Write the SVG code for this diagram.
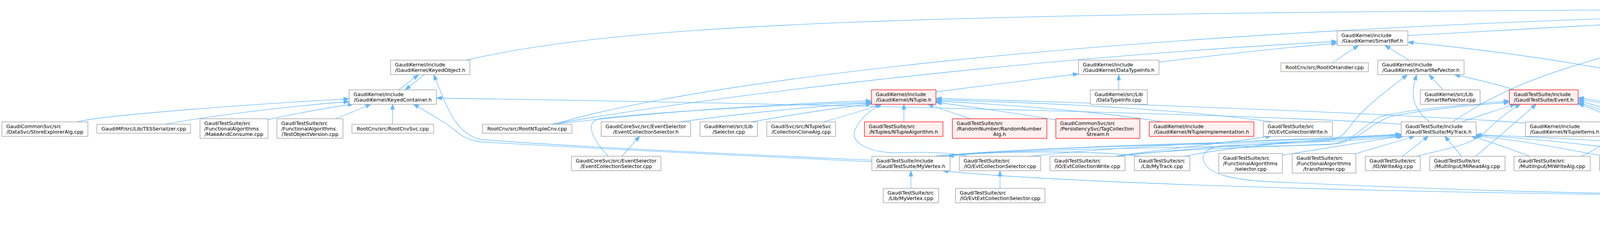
<svg xmlns="http://www.w3.org/2000/svg" width="5684" height="645" viewBox="0 0 5684 645">
<style>
.n rect{fill:#ffffff;stroke:#999999;stroke-width:1.3}
.root rect{fill:#999999;stroke:#666666;stroke-width:1.3}
.trunc rect{fill:#fff0f0;stroke:#ff0000;stroke-width:1.3}
text{font-family:"DejaVu Sans","Liberation Sans",sans-serif;font-size:12.8px;fill:#000000}
.m{text-anchor:middle}
#edges path{fill:none;stroke:#63b8ff;stroke-width:1.3;marker-end:url(#ah)}
</style>
<defs>
<marker id="ah" markerUnits="userSpaceOnUse" markerWidth="16" markerHeight="12" refX="14" refY="5" orient="auto" overflow="visible">
<path d="M0,0 L14,5 L0,10 z" fill="#63b8ff" stroke="#63b8ff" stroke-width="1"/>
</marker>
</defs>
<rect width="5684" height="645" fill="#ffffff"/>
<g id="edges">
<path d="M1193,154 C1600,60 2300,30 4766,23"/>
<path d="M3604,91 C3900,75 4400,45 4766,33"/>
<path d="M1420,318 C1700,230 2700,70 4766,30"/>
<path d="M3718,312 C3800,260 3900,190 4240,113 C4450,70 4650,42 4766,37"/>
<path d="M4765,400 C4800,360 4850,300 4855,260 L4855,167 C4858,120 4866,80 4874,41"/>
<path d="M4272,482 C4450,478 4700,481 4810,472 C4880,462 4907,420 4907,383 L4906,170 C4905,120 4896,80 4888,41"/>
<path d="M4279,485 C4500,456 4750,448 4858,452 C4886,453 4883,438 4866,420 C4830,385 4790,350 4700,318 C4450,230 4000,145 3604,108"/>
<path d="M4988,79 L4916,41"/>
<path d="M5140,79 L4962,41"/>
<path d="M5343,80 C5250,63 5100,44 4995,36"/>
<path d="M5512,80 C5350,58 5150,40 4995,31"/>
<path d="M1020,230 L1072,191"/>
<path d="M1087,191 L1037,230"/>
<path d="M197,312 C240,300 500,275 894,253"/>
<path d="M422,318 C520,300 700,275 894,260"/>
<path d="M686,306 C760,290 840,276 905,266"/>
<path d="M858,304 C890,292 920,280 950,266"/>
<path d="M1005,318 L1005,266"/>
<path d="M2232,414 C1900,398 1500,380 1230,363 C1180,357 1165,330 1140,315 C1110,297 1085,282 1058,266"/>
<path d="M2232,410 C1900,395 1500,378 1230,357 C1160,340 1140,260 1110,191"/>
<path d="M3587,318 C3300,296 2200,268 1117,251"/>
<path d="M1412,318 C1800,250 2600,150 3423,106"/>
<path d="M1415,318 C1700,285 2000,265 2231,258"/>
<path d="M1557,400 C1520,360 1490,310 1540,303 C1700,285 2000,268 2231,262"/>
<path d="M1741,312 C1900,290 2100,270 2231,264"/>
<path d="M1923,312 C2050,290 2150,275 2231,266"/>
<path d="M2108,312 C2170,295 2220,280 2255,266"/>
<path d="M2314,312 L2314,266"/>
<path d="M2484,304 C2450,292 2410,280 2375,266"/>
<path d="M2477,400 C2440,392 2380,388 2300,391 C2240,393 2170,370 2190,330 C2205,300 2230,280 2258,266"/>
<path d="M3905,315 C3700,298 3000,268 2396,252"/>
<path d="M3257,312 C3100,290 2800,265 2396,256"/>
<path d="M2703,307 C2600,290 2500,275 2396,262"/>
<path d="M2975,312 C2850,290 2600,268 2396,259"/>
<path d="M1592,400 L1638,348"/>
<path d="M2396,235 C2500,222 2650,203 2761,189"/>
<path d="M2864,230 L2864,191"/>
<path d="M2967,159 C3100,143 3300,120 3423,111"/>
<path d="M3410,161 L3478,116"/>
<path d="M3607,154 L3545,116"/>
<path d="M3694,230 L3658,191"/>
<path d="M3660,312 C3630,290 3615,260 3618,233 C3619,215 3622,205 3627,191"/>
<path d="M3877,230 C3830,215 3780,203 3723,191"/>
<path d="M2393,400 C2700,372 3200,368 3400,360 C3440,355 3450,330 3470,305 C3510,260 3560,225 3603,191"/>
<path d="M3742,312 C3790,295 3840,280 3880,266"/>
<path d="M3627,400 C3700,380 3760,375 3800,340 C3830,310 3860,285 3893,266"/>
<path d="M3778,400 C3830,355 3890,305 3933,266"/>
<path d="M4047,400 C4100,380 4140,340 4125,315 C4110,290 4080,278 4040,266"/>
<path d="M4168,400 C4170,350 4150,300 4100,282 C4080,274 4060,268 4040,263"/>
<path d="M4225,482 C4245,460 4260,420 4245,380 C4225,330 4170,290 4040,258"/>
<path d="M4380,400 C4340,330 4250,285 4040,254"/>
<path d="M4540,400 C4450,340 4250,280 4040,250"/>
<path d="M2393,400 C2700,375 3200,378 3400,370 C3460,365 3480,330 3530,300 C3600,280 3750,268 3864,258"/>
<path d="M2855,400 C3000,380 3300,375 3420,368 C3480,360 3500,320 3560,298 C3650,280 3780,268 3864,262"/>
<path d="M2393,400 C2700,370 3300,365 3587,345"/>
<path d="M3033,400 C3150,375 3400,355 3587,343"/>
<path d="M2920,400 C2800,385 2550,385 2427,400"/>
<path d="M3472,393 C3520,378 3580,362 3622,348"/>
<path d="M3283,397 C3400,378 3500,362 3590,348"/>
<path d="M3590,400 L3657,348"/>
<path d="M3742,400 L3698,348"/>
<path d="M3917,400 C3860,380 3810,360 3765,348"/>
<path d="M4108,400 C4000,380 3870,355 3772,348"/>
<path d="M4312,402 C4150,380 3950,355 3776,346"/>
<path d="M4508,400 C4300,370 4000,352 3778,345"/>
<path d="M2860,400 C3100,372 3400,360 3587,347"/>
<path d="M2637,400 C2900,370 3300,358 3587,344"/>
<path d="M4138,495 C3800,490 3400,472 3250,465 C3150,460 3100,445 3085,420 C3070,395 3090,375 3140,372 C3300,368 3480,360 3595,348"/>
<path d="M4138,498 C3500,490 2700,468 2413,437"/>
<path d="M2332,482 L2332,437"/>
<path d="M2855,400 C2950,385 3150,365 3255,348"/>
<path d="M2560,482 L2560,437"/>
<path d="M4388,482 L4388,437"/>
<path d="M4580,482 L4573,437"/>
<path d="M4687,400 C4550,370 4300,345 4106,335"/>
</g>
<g id="n0" class="root"><rect x="4766" y="4" width="229" height="37"/><text x="4777" y="19.5">GaudiKernel/include</text><text class="m" x="4880.5" y="33.5">/GaudiKernel/ContainedObject.h</text></g>
<g id="n1" class="n"><rect x="1000" y="154" width="203" height="37"/><text x="1011" y="169.5">GaudiKernel/include</text><text class="m" x="1101.5" y="183.5">/GaudiKernel/KeyedObject.h</text></g>
<g id="n2" class="n"><rect x="894" y="230" width="223" height="37"/><text x="905" y="245.5">GaudiKernel/include</text><text class="m" x="1005.5" y="259.5">/GaudiKernel/KeyedContainer.h</text></g>
<g id="n3" class="n"><rect x="5" y="312" width="220" height="37"/><text x="16" y="327.5">GaudiCommonSvc/src</text><text class="m" x="115" y="341.5">/DataSvc/StoreExplorerAlg.cpp</text></g>
<g id="n4" class="n"><rect x="248" y="318" width="240" height="23"/><text class="m" x="368" y="333.5">GaudiMP/src/Lib/TESSerializer.cpp</text></g>
<g id="n5" class="n"><rect x="512" y="304" width="174" height="50"/><text x="523" y="319.5">GaudiTestSuite/src</text><text x="523" y="333.5">/FunctionalAlgorithms</text><text class="m" x="599" y="347.5">/MakeAndConsume.cpp</text></g>
<g id="n6" class="n"><rect x="709" y="304" width="169" height="50"/><text x="720" y="319.5">GaudiTestSuite/src</text><text x="720" y="333.5">/FunctionalAlgorithms</text><text class="m" x="793.5" y="347.5">/TestObjectVersion.cpp</text></g>
<g id="n7" class="n"><rect x="901" y="318" width="209" height="23"/><text class="m" x="1005.5" y="333.5">RootCnv/src/RootCnvSvc.cpp</text></g>
<g id="n8" class="n"><rect x="1235" y="318" width="229" height="23"/><text class="m" x="1349.5" y="333.5">RootCnv/src/RootNTupleCnv.cpp</text></g>
<g id="n9" class="n"><rect x="1539" y="312" width="229" height="37"/><text x="1550" y="327.5">GaudiCoreSvc/src/EventSelector</text><text class="m" x="1653.5" y="341.5">/EventCollectionSelector.h</text></g>
<g id="n10" class="n"><rect x="1463" y="400" width="229" height="37"/><text x="1474" y="415.5">GaudiCoreSvc/src/EventSelector</text><text class="m" x="1577.5" y="429.5">/EventCollectionSelector.cpp</text></g>
<g id="n11" class="n"><rect x="1792" y="312" width="147" height="37"/><text x="1803" y="327.5">GaudiKernel/src/Lib</text><text class="m" x="1865.5" y="341.5">/Selector.cpp</text></g>
<g id="n12" class="n"><rect x="1963" y="312" width="176" height="37"/><text x="1974" y="327.5">GaudiSvc/src/NTupleSvc</text><text class="m" x="2051" y="341.5">/CollectionCloneAlg.cpp</text></g>
<g id="n13" class="trunc"><rect x="2231" y="230" width="165" height="37"/><text x="2242" y="245.5">GaudiKernel/include</text><text class="m" x="2313.5" y="259.5">/GaudiKernel/NTuple.h</text></g>
<g id="n14" class="trunc"><rect x="2213" y="312" width="201" height="37"/><text x="2224" y="327.5">GaudiTestSuite/src</text><text class="m" x="2313.5" y="341.5">/NTuples/NTupleAlgorithm.h</text></g>
<g id="n15" class="n"><rect x="2232" y="400" width="200" height="37"/><text x="2243" y="415.5">GaudiTestSuite/include</text><text class="m" x="2332" y="429.5">/GaudiTestSuite/MyVertex.h</text></g>
<g id="n16" class="n"><rect x="2261" y="482" width="142" height="37"/><text x="2272" y="497.5">GaudiTestSuite/src</text><text class="m" x="2332" y="511.5">/Lib/MyVertex.cpp</text></g>
<g id="n17" class="trunc"><rect x="2438" y="304" width="242" height="50"/><text x="2449" y="319.5">GaudiTestSuite/src</text><text x="2449" y="333.5">/RandomNumber/RandomNumber</text><text class="m" x="2559" y="347.5">Alg.h</text></g>
<g id="n18" class="trunc"><rect x="2703" y="304" width="215" height="50"/><text x="2714" y="319.5">GaudiCommonSvc/src</text><text x="2714" y="333.5">/PersistencySvc/TagCollection</text><text class="m" x="2810.5" y="347.5">Stream.h</text></g>
<g id="n19" class="n"><rect x="2761" y="154" width="206" height="37"/><text x="2772" y="169.5">GaudiKernel/include</text><text class="m" x="2864" y="183.5">/GaudiKernel/DataTypeInfo.h</text></g>
<g id="n20" class="n"><rect x="2791" y="230" width="146" height="37"/><text x="2802" y="245.5">GaudiKernel/src/Lib</text><text class="m" x="2864" y="259.5">/DataTypeInfo.cpp</text></g>
<g id="n21" class="n"><rect x="2456" y="400" width="208" height="37"/><text x="2467" y="415.5">GaudiTestSuite/src</text><text class="m" x="2560" y="429.5">/IO/EvtCollectionSelector.cpp</text></g>
<g id="n22" class="n"><rect x="2688" y="400" width="192" height="37"/><text x="2699" y="415.5">GaudiTestSuite/src</text><text class="m" x="2784" y="429.5">/IO/EvtCollectionWrite.cpp</text></g>
<g id="n23" class="n"><rect x="2446" y="482" width="229" height="37"/><text x="2457" y="497.5">GaudiTestSuite/src</text><text class="m" x="2560.5" y="511.5">/IO/EvtExtCollectionSelector.cpp</text></g>
<g id="n24" class="trunc"><rect x="2942" y="312" width="268" height="37"/><text x="2953" y="327.5">GaudiKernel/include</text><text class="m" x="3076" y="341.5">/GaudiKernel/NTupleImplementation.h</text></g>
<g id="n25" class="n"><rect x="3234" y="312" width="177" height="37"/><text x="3245" y="327.5">GaudiTestSuite/src</text><text class="m" x="3322.5" y="341.5">/IO/EvtCollectionWrite.h</text></g>
<g id="n26" class="n"><rect x="2904" y="400" width="142" height="37"/><text x="2915" y="415.5">GaudiTestSuite/src</text><text class="m" x="2975" y="429.5">/Lib/MyTrack.cpp</text></g>
<g id="n27" class="n"><rect x="3120" y="393" width="163" height="50"/><text x="3131" y="408.5">GaudiTestSuite/src</text><text x="3131" y="422.5">/FunctionalAlgorithms</text><text class="m" x="3201.5" y="436.5">/selector.cpp</text></g>
<g id="n28" class="n"><rect x="3279" y="161" width="224" height="22.5"/><text class="m" x="3391" y="176.5">RootCnv/src/RootIOHandler.cpp</text></g>
<g id="n29" class="n"><rect x="3423" y="79" width="181" height="37"/><text x="3434" y="94.5">GaudiKernel/include</text><text class="m" x="3513.5" y="108.5">/GaudiKernel/SmartRef.h</text></g>
<g id="n30" class="n"><rect x="3527" y="154" width="221" height="37"/><text x="3538" y="169.5">GaudiKernel/include</text><text class="m" x="3637.5" y="183.5">/GaudiKernel/SmartRefVector.h</text></g>
<g id="n31" class="n"><rect x="3636" y="230" width="153" height="37"/><text x="3647" y="245.5">GaudiKernel/src/Lib</text><text class="m" x="3712.5" y="259.5">/SmartRefVector.cpp</text></g>
<g id="n32" class="n"><rect x="3587" y="312" width="192" height="37"/><text x="3598" y="327.5">GaudiTestSuite/include</text><text class="m" x="3683" y="341.5">/GaudiTestSuite/MyTrack.h</text></g>
<g id="n33" class="n"><rect x="3308" y="393" width="163" height="50"/><text x="3319" y="408.5">GaudiTestSuite/src</text><text x="3319" y="422.5">/FunctionalAlgorithms</text><text class="m" x="3389.5" y="436.5">/transformer.cpp</text></g>
<g id="n34" class="n"><rect x="3495" y="400" width="141" height="37"/><text x="3506" y="415.5">GaudiTestSuite/src</text><text class="m" x="3565.5" y="429.5">/IO/WriteAlg.cpp</text></g>
<g id="n35" class="n"><rect x="3660" y="400" width="193" height="37"/><text x="3671" y="415.5">GaudiTestSuite/src</text><text class="m" x="3756.5" y="429.5">/MultiInput/MIReadAlg.cpp</text></g>
<g id="n36" class="trunc"><rect x="3864" y="230" width="176" height="37"/><text x="3875" y="245.5">GaudiTestSuite/include</text><text class="m" x="3952" y="259.5">/GaudiTestSuite/Event.h</text></g>
<g id="n37" class="n"><rect x="3905" y="312" width="201" height="37"/><text x="3916" y="327.5">GaudiKernel/include</text><text class="m" x="4005.5" y="341.5">/GaudiKernel/NTupleItems.h</text></g>
<g id="n38" class="n"><rect x="3876" y="400" width="195" height="37"/><text x="3887" y="415.5">GaudiTestSuite/src</text><text class="m" x="3973.5" y="429.5">/MultiInput/MIWriteAlg.cpp</text></g>
<g id="n39" class="n"><rect x="4095" y="400" width="141" height="37"/><text x="4106" y="415.5">GaudiTestSuite/src</text><text class="m" x="4165.5" y="429.5">/IO/ReadAlg.cpp</text></g>
<g id="n40" class="n"><rect x="4138" y="482" width="141" height="37"/><text x="4149" y="497.5">GaudiTestSuite/src</text><text class="m" x="4208.5" y="511.5">/IO/dict.h</text></g>
<g id="n41" class="n"><rect x="4310" y="400" width="156" height="37"/><text x="4321" y="415.5">GaudiTestSuite/src</text><text class="m" x="4388" y="429.5">/IO/ReadHandleAlg.h</text></g>
<g id="n42" class="n"><rect x="4490" y="400" width="157" height="37"/><text x="4501" y="415.5">GaudiTestSuite/src</text><text class="m" x="4568.5" y="429.5">/IO/WriteHandleAlg.h</text></g>
<g id="n43" class="n"><rect x="4671" y="400" width="146" height="37"/><text x="4682" y="415.5">GaudiKernel/src/Lib</text><text class="m" x="4744" y="429.5">/NTupleItems.cpp</text></g>
<g id="n44" class="n"><rect x="4303" y="482" width="170" height="37"/><text x="4314" y="497.5">GaudiTestSuite/src</text><text class="m" x="4388" y="511.5">/IO/ReadHandleAlg.cpp</text></g>
<g id="n45" class="n"><rect x="4498" y="482" width="172" height="37"/><text x="4509" y="497.5">GaudiTestSuite/src</text><text class="m" x="4584" y="511.5">/IO/WriteHandleAlg.cpp</text></g>
<g id="n46" class="n"><rect x="4942" y="79" width="161" height="37"/><text x="4953" y="94.5">GaudiKernel/src/Lib</text><text class="m" x="5022.5" y="108.5">/ContainedObject.cpp</text></g>
<g id="n47" class="n"><rect x="5128" y="79" width="190" height="37"/><text x="5139" y="94.5">GaudiKernel/src/Lib</text><text class="m" x="5223" y="108.5">/KeyedObjectManager.cpp</text></g>
<g id="n48" class="n"><rect x="5341" y="79" width="147" height="37"/><text x="5352" y="94.5">GaudiKernel/src/Lib</text><text class="m" x="5414.5" y="108.5">/SmartRefBase.cpp</text></g>
<g id="n49" class="n"><rect x="5512" y="79" width="166" height="37"/><text x="5523" y="94.5">GaudiPython/include</text><text class="m" x="5595" y="108.5">/GaudiPython/Printer.h</text></g>
</svg>
